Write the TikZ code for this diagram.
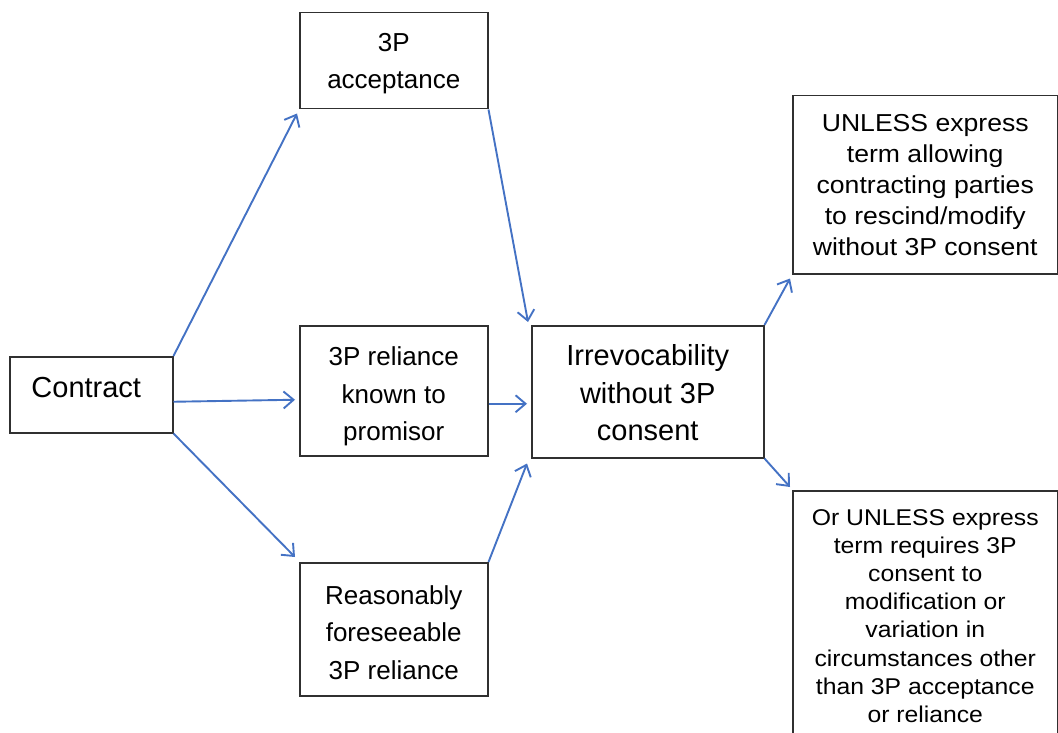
\documentclass[tikz,border=0pt]{standalone}
\usepackage{fontspec}
\setmainfont{Liberation Sans}
\newfontfamily\widesans[FakeStretch=1.085]{Liberation Sans}
\usetikzlibrary{arrows.meta,calc}
\definecolor{arrowblue}{HTML}{4472C4}
\definecolor{boxline}{HTML}{303030}
\tikzset{
  box/.style={draw=boxline, line width=1.5pt, inner sep=0pt, anchor=north west},
  txt/.style={align=center, inner sep=0pt},
  conn/.style={draw=arrowblue, line width=1.9pt, -{Straight Barb[length=10pt,width=17pt,line width=1.9pt]}},
  midfont/.style={font=\fontsize{26}{37.5}\selectfont},
  bigfont/.style={font=\fontsize{29}{37.5}\selectfont},
  ufont/.style={font=\widesans\fontsize{24.5}{31}\selectfont},
  ofont/.style={font=\widesans\fontsize{22.8}{28.2}\selectfont}
}
\begin{document}
\begin{tikzpicture}[x=1pt,y=-1pt]
\useasboundingbox (0,0) rectangle (1058,733);
\node[box,minimum width=163,minimum height=76] (c) at (9,356) {};
\node[txt,bigfont] (ct) at ($(c.center)+(-5,-7)$) {Contract};
\node[box,minimum width=188,minimum height=96] (a) at (299,12) {};
\node[txt,midfont] (at) at ($(a.center)+(0,3)$) {3P\\acceptance};
\node[box,minimum width=188,minimum height=130] (r) at (299,325) {};
\node[txt,midfont] (rt) at ($(r.center)+(0,6)$) {3P reliance\\known to\\promisor};
\node[box,minimum width=188,minimum height=133] (f) at (299,562) {};
\node[txt,midfont] (ft) at ($(f.center)+(0,3)$) {Reasonably\\foreseeable\\3P reliance};
\node[box,minimum width=232,minimum height=132] (i) at (531,325) {};
\node[txt,bigfont] (it) at ($(i.center)+(0,1)$) {Irrevocability\\without 3P\\consent};
\node[box,minimum width=265,minimum height=178] (u) at (792,95) {};
\node[txt,ufont] (ut) at (u.center) {UNLESS express\\term allowing\\contracting parties\\to rescind/modify\\without 3P consent};
\node[box,minimum width=265,minimum height=300] (o) at (792,490) {};
\node[txt,ofont,anchor=north] (ot) at ($(o.north)+(0,19)$) {Or UNLESS express\\term requires 3P\\consent to\\modification or\\variation in\\circumstances other\\than 3P acceptance\\or reliance};
\draw[conn] (c.north east) -- ($(a.south west)+(-2,4)$);
\draw[conn] ($(c.east)+(0,7)$) -- ($(r.west)+(-4,9)$);
\draw[conn] (c.south east) -- ($(f.north west)+(-4,-5)$);
\draw[conn] (a.south east) -- ($(i.north west)+(-3,-3)$);
\draw[conn] ($(r.east)+(0,13)$) -- ($(i.west)+(-4,12)$);
\draw[conn] (f.north east) -- ($(i.south west)+(-4,5)$);
\draw[conn] (i.north east) -- ($(u.south west)+(-2,4)$);
\draw[conn] (i.south east) -- ($(o.north west)+(-2,-3)$);
\end{tikzpicture}
\end{document}
